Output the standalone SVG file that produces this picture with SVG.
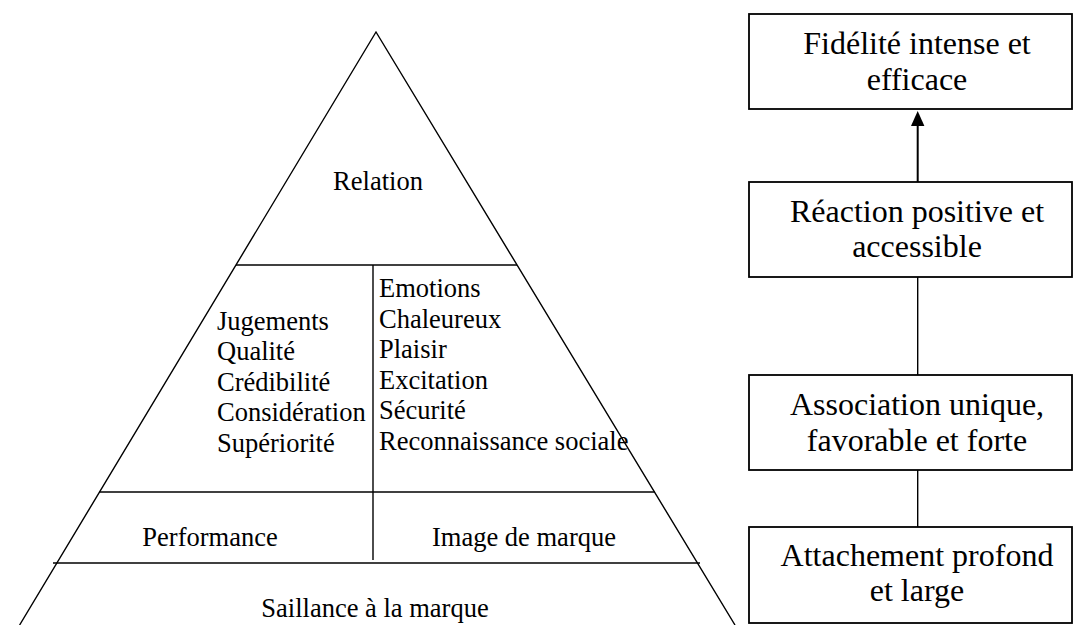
<svg xmlns="http://www.w3.org/2000/svg" width="1073" height="625" viewBox="0 0 1073 625">
<style>
.edge{stroke:#000;stroke-width:1.4;fill:none}
.hl{stroke:#000;stroke-width:1.7;fill:none}
.t{font-family:"Liberation Serif","Times New Roman",serif;font-size:26.5px;fill:#000}
.c{text-anchor:middle}
.box{fill:#fff;stroke:#000;stroke-width:1.8}
.bt{font-family:"Liberation Serif","Times New Roman",serif;font-size:32px;fill:#000;text-anchor:middle}
.conn{stroke:#000;stroke-width:1.4;fill:none}
</style>
<rect width="1073" height="625" fill="#fff"/>
<g id="pyramid">
<path class="edge" d="M19.6,625 L376,32 L735,625"/>
<line class="hl" x1="236" y1="265" x2="517" y2="265"/>
<line class="hl" x1="99" y1="492" x2="655" y2="492"/>
<line class="hl" x1="53" y1="563" x2="700" y2="563"/>
<line class="edge" x1="373" y1="265" x2="373" y2="560"/>
</g>
<g id="relation"><text class="t c" x="378" y="190">Relation</text></g>
<g id="jugements">
<text class="t" x="217" y="329.5">Jugements</text>
<text class="t" x="217" y="360">Qualité</text>
<text class="t" x="217" y="390.5">Crédibilité</text>
<text class="t" x="217" y="421">Considération</text>
<text class="t" x="217" y="451.5">Supériorité</text>
</g>
<g id="emotions">
<text class="t" x="379" y="297">Emotions</text>
<text class="t" x="379" y="327.5">Chaleureux</text>
<text class="t" x="379" y="358">Plaisir</text>
<text class="t" x="379" y="388.5">Excitation</text>
<text class="t" x="379" y="419">Sécurité</text>
<text class="t" x="379" y="449.5">Reconnaissance sociale</text>
</g>
<g id="performance"><text class="t c" x="210" y="546">Performance</text></g>
<g id="image"><text class="t c" x="524" y="546">Image de marque</text></g>
<g id="saillance"><text class="t c" x="375" y="617">Saillance à la marque</text></g>
<g id="connectors">
<line x1="917.7" y1="125" x2="917.7" y2="182" stroke="#000" stroke-width="2"/>
<polygon points="917.7,111 911,126 924.4,126" fill="#000"/>
<line class="conn" x1="917.7" y1="277" x2="917.7" y2="375"/>
<line class="conn" x1="917.7" y1="470" x2="917.7" y2="527"/>
</g>
<g id="fidelite">
<rect class="box" x="749" y="14" width="323" height="95"/>
<text class="bt" x="917" y="53.5">Fidélité intense et</text>
<text class="bt" x="917" y="89.5">efficace</text>
</g>
<g id="reaction">
<rect class="box" x="749" y="182" width="323" height="95"/>
<text class="bt" x="917" y="222">Réaction positive et</text>
<text class="bt" x="917" y="257">accessible</text>
</g>
<g id="association">
<rect class="box" x="749" y="375" width="323" height="95"/>
<text class="bt" x="917" y="414.5">Association unique,</text>
<text class="bt" x="917" y="450.5">favorable et forte</text>
</g>
<g id="attachement">
<rect class="box" x="749" y="527" width="323" height="96"/>
<text class="bt" x="917" y="565.5">Attachement profond</text>
<text class="bt" x="917" y="601">et large</text>
</g>
</svg>
